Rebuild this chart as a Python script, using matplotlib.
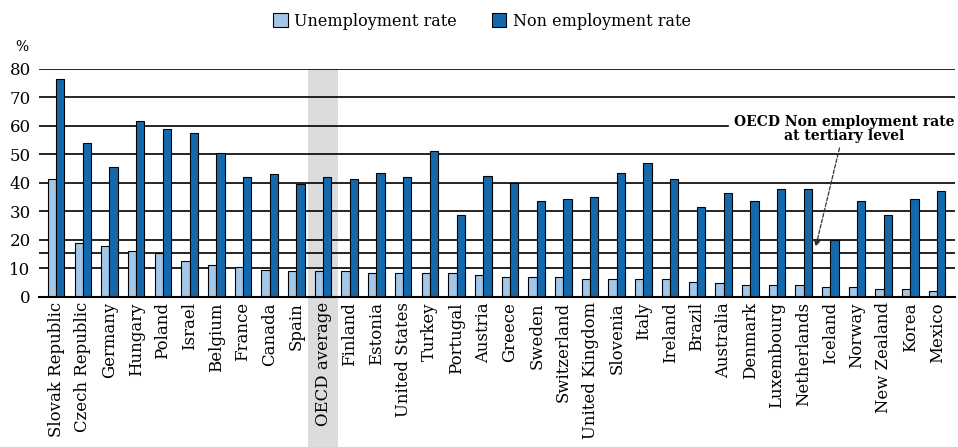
import matplotlib
matplotlib.use("Agg")
import matplotlib.pyplot as plt
import numpy as np

countries = ["Slovak Republic", "Czech Republic", "Germany", "Hungary", "Poland", "Israel",
             "Belgium", "France", "Canada", "Spain", "OECD average", "Finland", "Estonia",
             "United States", "Turkey", "Portugal", "Austria", "Greece", "Sweden",
             "Switzerland", "United Kingdom", "Slovenia", "Italy", "Ireland", "Brazil",
             "Australia", "Denmark", "Luxembourg", "Netherlands", "Iceland", "Norway",
             "New Zealand", "Korea", "Mexico"]
unemployment = [41.2, 18.8, 17.9, 16.1, 15.2, 12.5, 11.0, 10.5, 9.5, 9.0, 9.0, 9.0, 8.2,
                8.2, 8.2, 8.2, 7.6, 6.9, 6.9, 6.9, 6.1, 6.1, 6.1, 6.1, 5.3, 4.7, 4.1,
                4.1, 4.1, 3.4, 3.4, 2.7, 2.7, 2.0]
non_employment = [76.5, 53.9, 45.7, 61.7, 58.9, 57.6, 50.4, 42.1, 42.9, 39.6, 42.1, 41.2,
                  43.5, 42.1, 51.2, 28.7, 42.2, 39.8, 33.7, 34.4, 35.1, 43.6, 47.1, 41.4,
                  31.5, 36.5, 33.7, 37.8, 37.8, 19.9, 33.7, 28.7, 34.4, 37.2]
oecd_tertiary = 15.5
yticks = [0, 10, 20, 30, 40, 50, 60, 70, 80]

plt.rcParams['font.family'] = ['DejaVu Serif']

fig = plt.figure(figsize=(9.58, 4.47), dpi=100)
ax = fig.add_axes([0.0407, 0.3363, 0.9562, 0.5097])

x = np.arange(len(countries))
w = 0.31
light = "#a3c7e8"
dark = "#1469ad"

# grey band for OECD average
oecd_idx = countries.index("OECD average")
ax.axvspan(oecd_idx - 0.56, oecd_idx + 0.56, ymin=-0.66, ymax=1.0, color="#dcdcdc",
           zorder=0, clip_on=False, lw=0)

# gridlines
for t in yticks[1:]:
    if t == 60:
        ax.axhline(t, xmin=0, xmax=0.752, color="black", lw=1.2, zorder=1)
    else:
        ax.axhline(t, color="black", lw=1.2, zorder=1)
ax.axhline(oecd_tertiary, color="black", lw=1.2, zorder=1)

b1 = ax.bar(x - w / 2, unemployment, w, color=light, edgecolor="black", lw=0.8, zorder=2,
            label="Unemployment rate")
b2 = ax.bar(x + w / 2, non_employment, w, color=dark, edgecolor="black", lw=0.8, zorder=2,
            label="Non employment rate")

ax.set_xlim(-0.64, len(countries) - 1 + 0.67)
ax.set_ylim(0, 80)
ax.set_yticks(yticks)
ax.set_yticklabels([str(t) for t in yticks], fontsize=12)
ax.tick_params(axis='y', length=0, pad=6)
ax.set_xticks(x)
ax.set_xticklabels(countries, rotation=90, fontsize=11.9)
ax.tick_params(axis='x', length=0, pad=4)
for s in ["top", "right", "left"]:
    ax.spines[s].set_visible(False)
ax.spines["bottom"].set_linewidth(1.5)
ax.spines["bottom"].set_zorder(3)

fig.text(0.016, 0.895, "%", fontsize=10, ha="left", va="center")

fig.legend(handles=[b1, b2], loc="center", bbox_to_anchor=(0.503, 0.953), ncol=2,
           frameon=False, fontsize=11.5, handlelength=0.9, handleheight=0.9,
           handletextpad=0.4, columnspacing=2.2)

ax.annotate("OECD Non employment rate\nat tertiary level",
            xy=(29.0 - 0.55, oecd_tertiary + 2), xycoords="data",
            xytext=(0.879, 0.738), textcoords="axes fraction",
            ha="center", va="center", fontsize=10, fontweight="bold", linespacing=1.0,
            arrowprops=dict(arrowstyle="-|>", color="#333333", lw=0.9, ls=(0, (3, 1.5)),
                            mutation_scale=8, shrinkA=2, shrinkB=0))

fig.savefig("out.png", dpi=100)
